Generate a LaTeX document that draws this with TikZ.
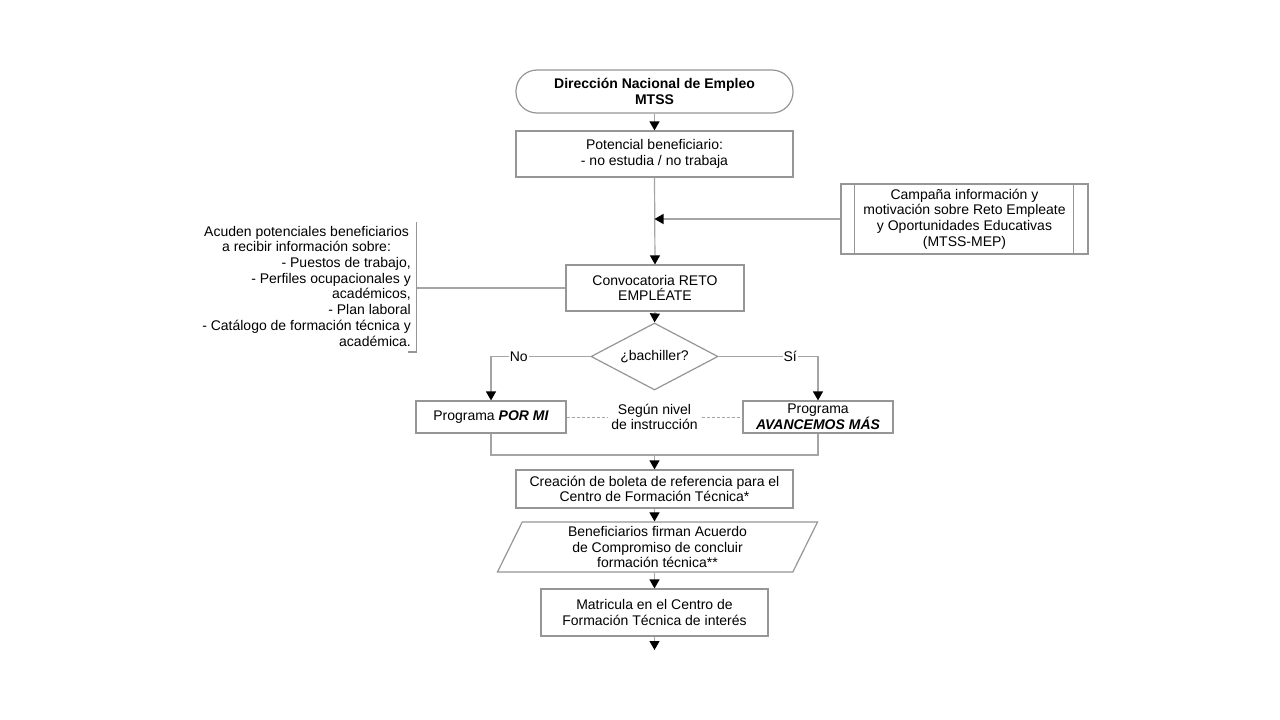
\documentclass[tikz,border=0pt]{standalone}
\usepackage{fontspec}
\setmainfont{Liberation Sans}
\usetikzlibrary{arrows.meta,shapes.geometric}
\definecolor{bord}{RGB}{150,150,150}
\definecolor{lin}{RGB}{165,165,165}
\tikzset{
  box/.style={draw=bord, line width=1.2pt, fill=white, align=center, inner sep=2pt,
    font=\fontsize{14}{15.8}\selectfont},
  termbox/.style={box, rounded corners=21pt},
  conn/.style={draw=lin, line width=1.2pt},
  arr/.style={conn, -{Triangle[black,width=10pt,length=9pt]}},
  dsh/.style={draw=lin, line width=1pt, dash pattern=on 3pt off 2pt},
  lbl/.style={fill=white, inner sep=1pt, font=\fontsize{14}{15.8}\selectfont},
  txt/.style={inner sep=0pt, font=\fontsize{14}{15.7}\selectfont}
}
\begin{document}
\begin{tikzpicture}[x=1pt,y=-1pt]
\useasboundingbox[fill=white] (0,0) rectangle (1280,720);

\node[termbox, minimum width=277pt, minimum height=43pt] (dir) at (654.5,91.5)
  {\bfseries Dirección Nacional de Empleo\\\bfseries MTSS};
\node[box, minimum width=277pt, minimum height=46pt] (pot) at (654.5,154)
  {Potencial beneficiario:\\- no estudia / no trabaja};
\node[box, minimum width=247pt, minimum height=70pt] (camp) at (964.5,219)
  {Campaña información y\\motivación sobre Reto Empleate\\y Oportunidades Educativas\\(MTSS-MEP)};
\draw[draw=bord, line width=1.2pt] ([xshift=14pt]camp.north west) -- ([xshift=14pt]camp.south west);
\draw[draw=bord, line width=1.2pt] ([xshift=-15pt]camp.north east) -- ([xshift=-15pt]camp.south east);
\coordinate (j) at (654.5,219);

\node[box, minimum width=178pt, minimum height=46pt] (conv) at (655,288)
  {Convocatoria RETO\\EMPLÉATE};

\node[txt, anchor=east] (acu) at (411,288) {%
  \begin{tabular}{@{}r@{}}
  \multicolumn{1}{@{}c@{}}{Acuden potenciales beneficiarios}\\
  \multicolumn{1}{@{}c@{}}{a recibir información sobre:}\\
  - Puestos de trabajo,\\
  - Perfiles ocupacionales y\\
  académicos,\\
  - Plan laboral\\
  - Catálogo de formación técnica y\\
  académica.
  \end{tabular}};
\coordinate (bt) at (416.5,222);
\coordinate (bb) at (416.5,352);
\coordinate (bl) at (408,352);
\coordinate (bm) at (416.5,288);
\draw[draw=bord, line width=1.2pt] (bt) -- (bb) -- (bl);
\draw[conn] (bm) -- (conv.west);

\node[draw=bord, line width=1.2pt, fill=white, diamond, aspect=1.9, inner sep=0pt,
  minimum width=127pt, minimum height=67pt, font=\fontsize{14}{15.8}\selectfont]
  (dia) at (654.5,356.5) {¿bachiller?};

\node[box, minimum width=150pt, minimum height=32pt] (pm) at (491,417)
  {Programa \textit{\bfseries POR MI}};
\node[box, minimum width=150pt, minimum height=32pt] (am) at (818,417)
  {Programa\\\textit{\bfseries AVANCEMOS MÁS}};

\draw[arr] (dir.south) -- (pot.north);
\draw[arr] (pot.south) -- (conv.north);
\draw[arr] (camp.west) -- (j);
\draw[arr] (conv.south) -- (dia.north);
\draw[arr] (dia.west) -| node[lbl, pos=0.36] {No} (pm.north);
\draw[arr] (dia.east) -| node[lbl, pos=0.36] {Sí} (am.north);
\draw[dsh] (pm.east) -- node[lbl, align=center, inner sep=3pt] {Según nivel\\de instrucción} (am.west);

\coordinate (m) at (654.5,455);
\node[box, minimum width=277pt, minimum height=38pt] (cre) at (654.5,489)
  {Creación de boleta de referencia para el\\Centro de Formación Técnica*};
\node[box, trapezium, trapezium left angle=70, trapezium right angle=110,
  trapezium stretches=true, minimum width=321pt, minimum height=50pt] (par) at (657.5,547)
  {Beneficiarios firman Acuerdo\\de Compromiso de concluir\\formación técnica**};
\node[box, minimum width=227pt, minimum height=47pt] (mat) at (654.5,612.5)
  {Matricula en el Centro de\\Formación Técnica de interés};
\coordinate (end) at (654.5,650);

\draw[conn] (pm.south) |- (m) -| (am.south);
\draw[arr] (m) -- (cre.north);
\draw[arr] (cre.south) -- (cre.south |- par.north);
\draw[arr] (mat.north |- par.south) -- (mat.north);
\draw[arr] (mat.south) -- (end);
\end{tikzpicture}
\end{document}
